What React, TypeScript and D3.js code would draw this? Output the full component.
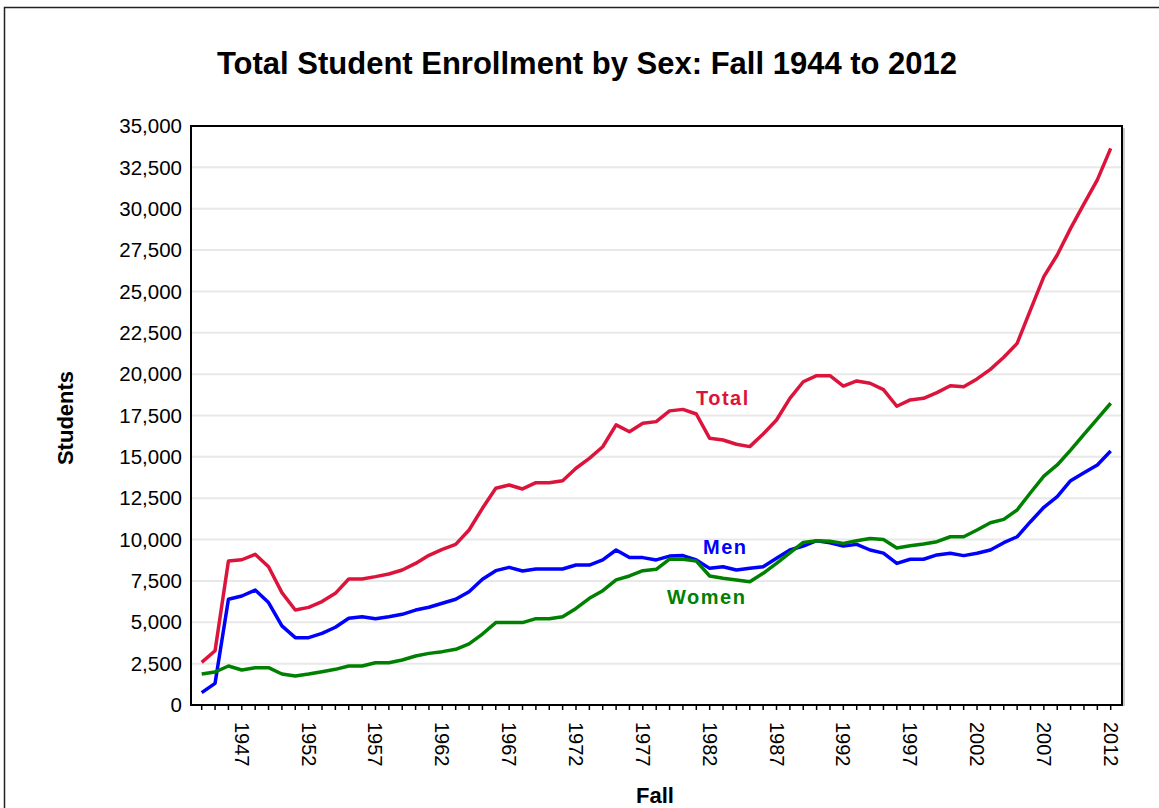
import React from "react";
import * as d3 from "d3";

// Fall enrollment, 1944..2012 (one value per year)
const firstYear = 1944;

const totalStudents = [
  2580, 3280, 8700, 8780, 9110, 8360, 6790, 5740, 5900, 6250,
  6750, 7620, 7620, 7760, 7920, 8160, 8560, 9050, 9410, 9710,
  10580, 11890, 13100, 13300, 13060, 13440, 13440, 13560, 14310, 14910,
  15610, 16930, 16520, 17030, 17130, 17780, 17870, 17590, 16120, 16020,
  15760, 15620, 16380, 17230, 18540, 19540, 19910, 19910, 19280, 19590,
  19450, 19060, 18060, 18440, 18540, 18880, 19300, 19240, 19710, 20290,
  21020, 21860, 23880, 25890, 27200, 28810, 30290, 31740, 33650,
];

const menStudents = [
  745, 1310, 6390, 6590, 6950, 6190, 4780, 4070, 4070, 4330,
  4700, 5240, 5340, 5220, 5340, 5480, 5740, 5910, 6150, 6390,
  6850, 7600, 8120, 8320, 8100, 8220, 8220, 8220, 8460, 8460,
  8770, 9370, 8910, 8910, 8770, 9000, 9030, 8770, 8260, 8360,
  8160, 8260, 8360, 8870, 9370, 9610, 9930, 9810, 9610, 9710,
  9370, 9180, 8560, 8810, 8810, 9070, 9170, 9030, 9170, 9370,
  9810, 10170, 11080, 11950, 12590, 13560, 14040, 14510, 15350,
];

const womenStudents = [
  1874, 1995, 2357, 2116, 2256, 2256, 1874, 1753, 1874, 2015,
  2156, 2357, 2357, 2558, 2558, 2720, 2960, 3120, 3225, 3365,
  3690, 4290, 4980, 4980, 4980, 5220, 5220, 5340, 5840, 6450,
  6910, 7560, 7800, 8120, 8200, 8820, 8810, 8700, 7800, 7660,
  7560, 7450, 7960, 8560, 9200, 9830, 9930, 9900, 9770, 9930,
  10070, 10000, 9490, 9630, 9730, 9870, 10170, 10170, 10580, 11020,
  11220, 11790, 12830, 13840, 14510, 15410, 16360, 17290, 18240,
];

const yearLabels = [1947, 1952, 1957, 1962, 1967, 1972, 1977, 1982, 1987, 1992, 1997, 2002, 2007, 2012];
const yTicks = [0, 2500, 5000, 7500, 10000, 12500, 15000, 17500, 20000, 22500, 25000, 27500, 30000, 32500, 35000];

const series = [
  { name: "Total", values: totalStudents, color: "#DC143C", label: [696, 405] },
  { name: "Men", values: menStudents, color: "#0000FF", label: [703, 554] },
  { name: "Women", values: womenStudents, color: "#008000", label: [667, 604] },
];

const W = 1159;
const H = 808;
const plot = { left: 191, right: 1122, top: 126, bottom: 705 };
const font = "'Liberation Sans', Arial, Helvetica, sans-serif";

export default function App() {
  const years = totalStudents.map((_, i) => firstYear + i);

  const x = d3.scaleLinear()
    .domain([firstYear, years[years.length - 1]])
    .range([plot.left + 10.7, plot.right - 11.3]);
  const y = d3.scaleLinear().domain([0, 35000]).range([plot.bottom, plot.top]);

  const line = d3.line<number>()
    .x((_, i) => x(years[i]))
    .y((d) => y(d));

  const fmt = d3.format(",");

  return (
    <svg width={W} height={H} style={{ position: "absolute", left: 0, top: 0, background: "#fff" }} fontFamily={font}>
      {/* outer frame */}
      <rect x={4.5} y={7.5} width={W + 10} height={H + 10} fill="none" stroke="#222" strokeWidth={1.5} />

      <text x={587} y={74} textAnchor="middle" fontSize={31} fontWeight="bold">
        Total Student Enrollment by Sex: Fall 1944 to 2012
      </text>

      {/* gridlines */}
      {yTicks.filter((t) => t > 0 && t < 35000).map((t) => (
        <line key={t} x1={plot.left} x2={plot.right} y1={y(t)} y2={y(t)} stroke="#e8e8e8" strokeWidth={2} />
      ))}

      {/* y tick labels */}
      {yTicks.map((t) => (
        <text key={t} x={182} y={y(t)} dy="0.35em" textAnchor="end" fontSize={20.5}>
          {fmt(t)}
        </text>
      ))}

      {/* x ticks */}
      {years.map((yr) => (
        <line key={yr} x1={x(yr)} x2={x(yr)} y1={plot.bottom} y2={plot.bottom + 5} stroke="#000" strokeWidth={1.5} />
      ))}
      {yearLabels.map((yr) => (
        <text
          key={yr}
          transform={`translate(${x(yr)},722) rotate(90)`}
          dy="0.35em"
          fontSize={20}
        >
          {yr}
        </text>
      ))}

      {/* lines */}
      {series.map((s) => (
        <path key={s.name} d={line(s.values) || ""} fill="none" stroke={s.color} strokeWidth={3.5} strokeLinejoin="round" />
      ))}

      {/* plot frame */}
      <line x1={plot.right + 2} x2={plot.right + 2} y1={plot.top + 2} y2={plot.bottom + 1} stroke="#bbb" strokeWidth={1.5} />
      <rect x={plot.left} y={plot.top} width={plot.right - plot.left} height={plot.bottom - plot.top} fill="none" stroke="#000" strokeWidth={2} />

      {/* series labels */}
      {series.map((s) => (
        <text key={s.name} x={s.label[0]} y={s.label[1]} fill={s.color} fontSize={20} fontWeight="bold" letterSpacing={1.5}>
          {s.name}
        </text>
      ))}

      <text x={655} y={803} textAnchor="middle" fontSize={22} fontWeight="bold">Fall</text>
      <text transform="translate(73,418) rotate(-90)" textAnchor="middle" fontSize={22} fontWeight="bold">Students</text>
    </svg>
  );
}
